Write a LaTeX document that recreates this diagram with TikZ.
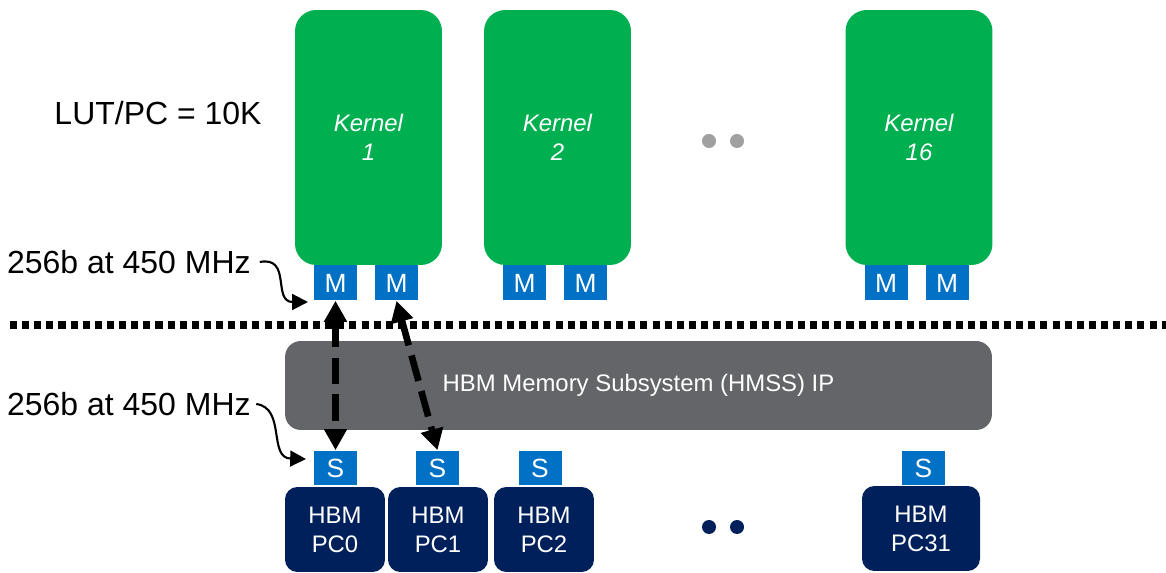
\documentclass[tikz,border=0pt]{standalone}
\usepackage{fontspec}
\setmainfont{Liberation Sans}
\usetikzlibrary{arrows.meta}
\definecolor{kgreen}{HTML}{00B050}
\definecolor{pblue}{HTML}{0071C5}
\definecolor{hnavy}{HTML}{00205B}
\definecolor{sgray}{HTML}{646569}
\definecolor{dgray}{HTML}{A0A0A0}
\tikzset{
  kernel/.style={fill=kgreen, rounded corners=12pt, minimum width=2.94cm, minimum height=5.1cm,
    text=white, align=center, font=\fontsize{13.6}{16.5}\selectfont\itshape},
  port/.style={fill=pblue, minimum width=0.86cm, minimum height=0.7cm, inner sep=0pt,
    text=white, font=\fontsize{15}{16}\selectfont},
  hbm/.style={fill=hnavy, rounded corners=7pt, minimum width=2cm, minimum height=1.7cm,
    text=white, align=center, font=\fontsize{13.6}{16.5}\selectfont},
  label/.style={font=\fontsize{18.2}{21}\selectfont, inner sep=0pt},
  bus/.style={line width=3.8pt, dash pattern=on 15pt off 6pt,
    {Triangle[width=12.5pt,length=12pt]}-{Triangle[width=12.5pt,length=12pt]}},
  curvy/.style={line width=1.2pt, -{Triangle[width=9pt,length=9pt]}}
}
\begin{document}
\begin{tikzpicture}[x=0.02cm, y=-0.02cm]
    \useasboundingbox (0,0) rectangle (1166,573);

    % kernels and master ports
    \node[kernel] (k1)  at (368.5,137.5) {Kernel\\1};
    \node[kernel] (k2)  at (557.5,137.5) {Kernel\\2};
    \node[kernel] (k16) at (919,137.5)   {Kernel\\16};
    \node[port] (m1a)  at (335.5,283) {M};
    \node[port] (m1b)  at (396.5,283) {M};
    \node[port] (m2a)  at (524.5,283) {M};
    \node[port] (m2b)  at (585.5,283) {M};
    \node[port] (m16a) at (886,283)   {M};
    \node[port] (m16b) at (947,283)   {M};

    % dots between kernels
    \fill[dgray] (709,141) circle (7);
    \fill[dgray] (737,141) circle (7);

    % boundary
    \draw[line width=4pt, dash pattern=on 4pt off 2.9pt] (10,325) -- (1166,325);

    % memory subsystem
    \node[fill=sgray, rounded corners=9pt, minimum width=14.14cm, minimum height=1.78cm,
      text=white, font=\fontsize{13.6}{16}\selectfont] (hmss) at (638.5,385.5)
      {HBM Memory Subsystem (HMSS) IP};

    % slave ports and pseudo channels
    \node[port] (s0)  at (335.5,468) {S};
    \node[port] (s1)  at (437.5,468) {S};
    \node[port] (s2)  at (540,468)   {S};
    \node[port] (s31) at (923.5,468) {S};
    \node[hbm] (pc0) at (335,529.5) {HBM\\PC0};
    \node[hbm] (pc1) at (438,529.5) {HBM\\PC1};
    \node[hbm] (pc2) at (544,529.5) {HBM\\PC2};
    \node[hbm, minimum width=2.36cm] (pc31) at (921,528.5) {HBM\\PC31};

    % dots between channels
    \fill[hnavy] (709,527) circle (7);
    \fill[hnavy] (737,527) circle (7);

    % connections
    \draw[bus] (m1a.south) -- (s0.north);
    \draw[bus] (m1b.south) -- (s1.north);

    % labels
    \node[label] (lut) at (158,113) {LUT/PC = 10K};
    \node[label, anchor=east] (bw1) at (251,262) {256b at 450 MHz};
    \node[label, anchor=east] (bw2) at (251,404) {256b at 450 MHz};
    \coordinate (t1) at (308,302);
    \coordinate (t2) at (306,459);
    \draw[curvy] ([xshift=5pt]bw1.east) .. controls (292,256) and (272,302) .. (t1);
    \draw[curvy] ([xshift=3pt]bw2.east) .. controls (286,408) and (268,458) .. (t2);
\end{tikzpicture}
\end{document}
